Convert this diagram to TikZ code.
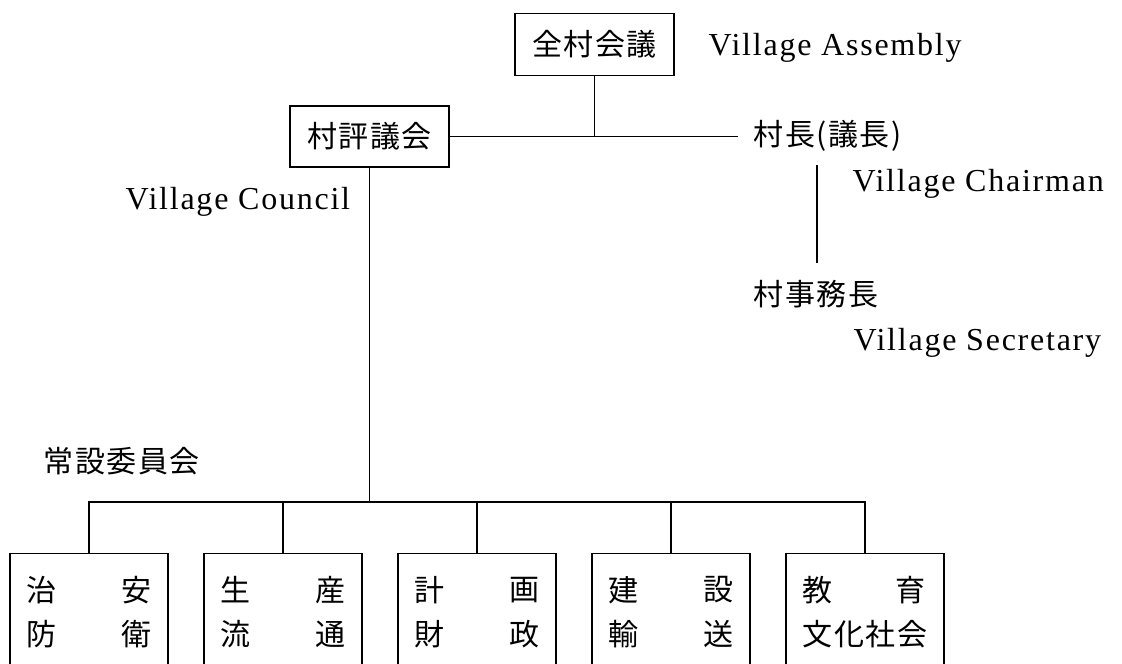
\documentclass[tikz,border=0pt]{standalone}
\usepackage{fontspec}
\setmainfont{Liberation Serif}
\newfontfamily\cjk{Noto Sans CJK JP}[LetterSpace=5]
\newfontfamily\latin{Liberation Serif}[LetterSpace=5.5]
\begin{document}
\begin{tikzpicture}[x=1pt,y=-1pt, line width=1.3pt,
  jbox/.style={draw, minimum width=159pt, minimum height=62pt, inner sep=0pt, font=\cjk\fontsize{30}{36}\selectfont},
  cbox/.style={draw, minimum width=158pt, minimum height=116pt, inner sep=0pt, anchor=north},
  jt/.style={font=\cjk\fontsize{30}{36}\selectfont, inner sep=0pt},
  et/.style={font=\latin\fontsize{32}{38}\selectfont, inner sep=0pt, anchor=base west}]
\useasboundingbox (0,0) rectangle (1122,664);
\clip (0,0) rectangle (1122,664);
% top part
\node[jbox] (assembly) at (594.5,44.5) {全村会議};
\node[jbox, minimum height=61pt] (council) at (369.5,136.5) {村評議会};
\node[jt, anchor=west] (chair) at (753,136) {村長(議長)};
\node[jt, anchor=west] (secr) at (753,294) {村事務長};
\node[et] (lassembly) at (708,55) {Village Assembly};
\node[et] (lchair) at (852,191) {Village Chairman};
\node[et] (lcouncil) at (125,209) {Village Council};
\node[et] (lsecr) at (853,350) {Village Secretary};
\node[jt, anchor=west] (standing) at (43,461) {常設委員会};
% committee boxes
\node[cbox] (c1) at (89,553) {};
\node[cbox] (c2) at (283,553) {};
\node[cbox] (c3) at (477,553) {};
\node[cbox] (c4) at (671,553) {};
\node[cbox] (c5) at (865,553) {};
\node[jt] (t1a) at (41,590) {治};  \node[jt] (t1b) at (136,590) {安};
\node[jt] (t1c) at (41,634) {防};  \node[jt] (t1d) at (136,634) {衛};
\node[jt] (t2a) at (235,590) {生};  \node[jt] (t2b) at (330,590) {産};
\node[jt] (t2c) at (235,634) {流};  \node[jt] (t2d) at (330,634) {通};
\node[jt] (t3a) at (429,590) {計};  \node[jt] (t3b) at (524,590) {画};
\node[jt] (t3c) at (429,634) {財};  \node[jt] (t3d) at (524,634) {政};
\node[jt] (t4a) at (623,590) {建};  \node[jt] (t4b) at (718,590) {設};
\node[jt] (t4c) at (623,634) {輸};  \node[jt] (t4d) at (718,634) {送};
\node[jt] (t5a) at (817,590) {教};  \node[jt] (t5b) at (910,590) {育};
\node[jt] (t5c) at (865,634) {文化社会};
% connectors
\coordinate (chairend) at (738,136.5);
\draw (council.east) -- (chairend);
\draw (assembly.south) -- (assembly.south |- chairend);
\coordinate (bus) at (369.5,502);
\draw (council.south) -- (bus);
\draw (c1.north) |- (bus) -| (c5.north);
\foreach \i in {2,3,4} \draw (c\i.north) -- (c\i.north |- bus);
\coordinate (v1) at (817,165);
\coordinate (v2) at (817,263);
\draw (v1) -- (v2);
\end{tikzpicture}
\end{document}
